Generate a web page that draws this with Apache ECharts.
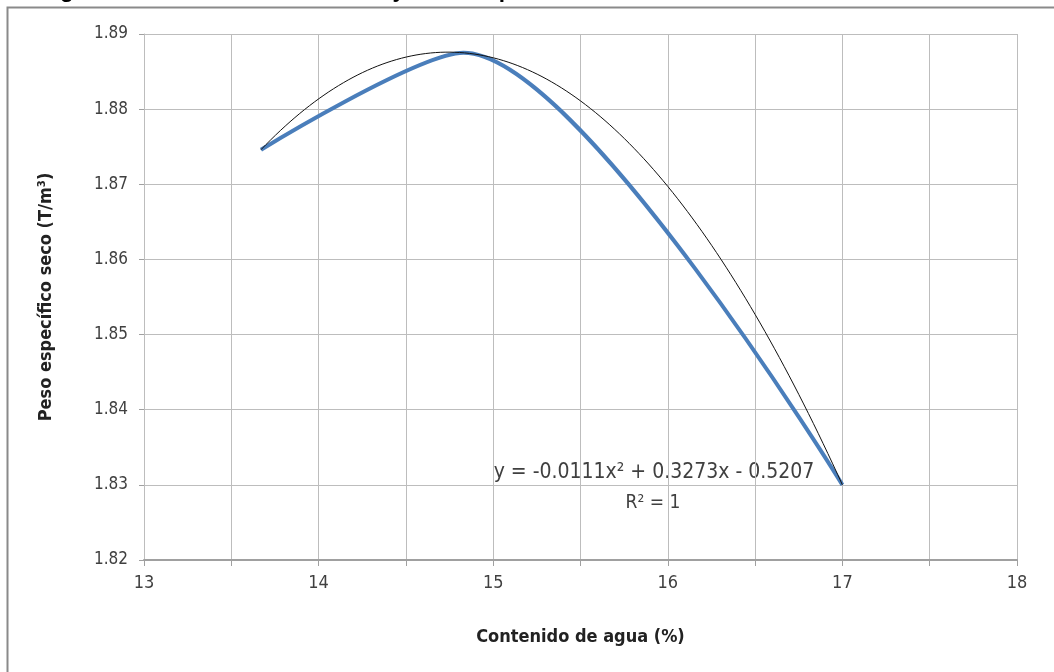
<!DOCTYPE html>
<html>
<head>
<meta charset="utf-8">
<script src="https://cdn.jsdelivr.net/npm/echarts@6/dist/echarts.min.js"></script>
<style>
html,body{margin:0;padding:0;background:#fff;}
#c{width:1054px;height:672px;}
</style>
</head>
<body>
<div id="c"></div>
<script>
// Data
var waterContent = [13.67, 14.83, 17.0];
var dryDensity = [1.8746, 1.8875, 1.83];
var xTicks = [13, 14, 15, 16, 17, 18];
var yTicks = [1.82, 1.83, 1.84, 1.85, 1.86, 1.87, 1.88, 1.89];
var titleText = 'Diagrama Contenido de Humedad y Peso Específico';
var xName = 'Contenido de agua (%)';
var yName = 'Peso específico seco (T/m³)';
var equationText = 'y = -0.0111x² + 0.3273x - 0.5207';
var r2Text = 'R² = 1';

var F = '"Liberation Sans Narrow","DejaVu Sans Condensed","Liberation Sans",sans-serif';

// quadratic trendline through the data (least squares; exact for 3 points)
function polyfit2(xs, ys) {
  var n = xs.length, S = [0,0,0,0,0], T = [0,0,0];
  for (var i = 0; i < n; i++) {
    var p = 1;
    for (var k = 0; k < 5; k++) { S[k] += p; if (k < 3) T[k] += p * ys[i]; p *= xs[i]; }
  }
  var A = [[S[0],S[1],S[2],T[0]],[S[1],S[2],S[3],T[1]],[S[2],S[3],S[4],T[2]]];
  for (var c = 0; c < 3; c++) {
    for (var r = c + 1; r < 3; r++) {
      var f = A[r][c] / A[c][c];
      for (var j = c; j < 4; j++) A[r][j] -= f * A[c][j];
    }
  }
  var coef = [0,0,0];
  for (var r2 = 2; r2 >= 0; r2--) {
    var s = A[r2][3];
    for (var j2 = r2 + 1; j2 < 3; j2++) s -= A[r2][j2] * coef[j2];
    coef[r2] = s / A[r2][r2];
  }
  return coef;
}
var cf = polyfit2(waterContent, dryDensity);
var trend = [];
var x0 = waterContent[0], x1 = waterContent[waterContent.length - 1];
for (var i = 0; i <= 120; i++) {
  var x = x0 + (x1 - x0) * i / 120;
  trend.push([x, cf[0] + cf[1] * x + cf[2] * x * x]);
}
var blue = waterContent.map(function (x, i) { return [x, dryDensity[i]]; });

var chart = echarts.init(document.getElementById('c'), null, {renderer: 'canvas'});
chart.setOption({
  animation: false,
  backgroundColor: '#fff',
  grid: {left: 144, right: 37, top: 34, bottom: 112, containLabel: false},
  xAxis: {
    type: 'value', min: 13, max: 18, interval: 0.5,
    name: xName, nameLocation: 'middle', nameGap: 68,
    nameTextStyle: {fontFamily: F, fontSize: 18, fontWeight: 'bold', color: '#222'},
    axisLine: {show: true, lineStyle: {color: '#a0a0a0', width: 2}},
    axisTick: {show: true, length: 6, lineStyle: {color: '#a0a0a0'}},
    axisLabel: {
      margin: 14, fontFamily: F, fontSize: 18, color: '#404040',
      formatter: function (v) { return xTicks.indexOf(v) >= 0 ? String(v) : ''; }
    },
    splitLine: {show: true, lineStyle: {color: '#bdbdbd', width: 1}}
  },
  yAxis: {
    type: 'value', min: 1.82, max: 1.89, interval: 0.01,
    name: yName, nameLocation: 'middle', nameGap: 89,
    nameTextStyle: {fontFamily: F, fontSize: 18, fontWeight: 'bold', color: '#222'},
    axisLine: {show: true, lineStyle: {color: '#bdbdbd', width: 1}},
    axisTick: {show: true, length: 5, lineStyle: {color: '#a0a0a0'}},
    axisLabel: {
      margin: 16, fontFamily: F, fontSize: 17, color: '#404040',
      formatter: function (v) {
        for (var i = 0; i < yTicks.length; i++) if (Math.abs(yTicks[i] - v) < 1e-9) return yTicks[i].toFixed(2);
        return '';
      }
    },
    splitLine: {show: true, lineStyle: {color: '#bdbdbd', width: 1}}
  },
  series: [
    {
      type: 'line', data: trend, smooth: false, symbol: 'none', z: 3,
      lineStyle: {color: '#111', width: 1}
    },
    {
      type: 'line', data: blue, smooth: 0.27, symbol: 'none', z: 2,
      lineStyle: {color: '#4a7ebb', width: 4}
    }
  ],
  graphic: [
    {type: 'rect', left: 5, top: 5, shape: {width: 1200, height: 900}, style: {fill: 'none', stroke: '#8a8a8a', lineWidth: 2}, silent: true},
    {type: 'text', left: 25, top: -21, style: {text: titleText, font: 'bold 22.5px "Liberation Sans", sans-serif', fill: '#000'}},
    {type: 'text', x: 654, y: 473, style: {text: equationText, font: '21px ' + F, fill: '#404040', textAlign: 'center', textVerticalAlign: 'middle'}},
    {type: 'text', x: 653, y: 503, style: {text: r2Text, font: '19px ' + F, fill: '#404040', textAlign: 'center', textVerticalAlign: 'middle'}}
  ]
});
</script>
</body>
</html>
